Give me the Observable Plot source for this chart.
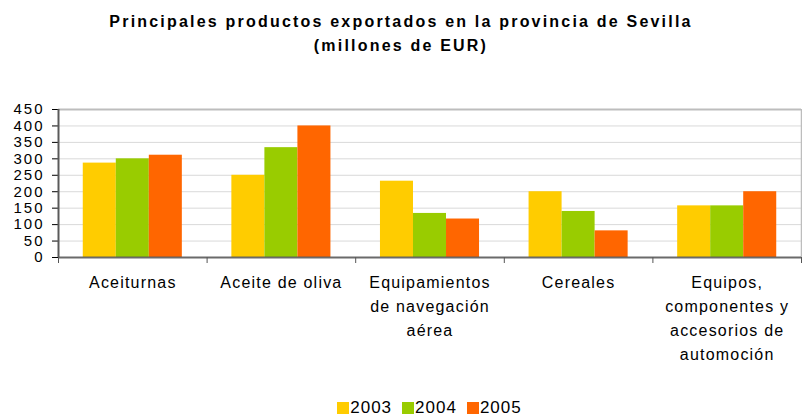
<!DOCTYPE html>
<html>
<head>
<meta charset="utf-8">
<script src="https://cdn.jsdelivr.net/npm/d3@7"></script>
<script src="https://cdn.jsdelivr.net/npm/@observablehq/plot@0.6"></script>
<style>
  body { margin: 0; background: #fff; font-family: "Liberation Sans", Arial, sans-serif; color: #000; }
  #title { height: 50px; padding-top: 10px; text-align: center; font-weight: bold; font-size: 16px;
           letter-spacing: 2.2px; line-height: 24px; }
  #chart svg { display: block; }
  #chart g[aria-label="y-axis tick label"] text { letter-spacing: 2px; }
  #chart g[aria-label="text"] text { letter-spacing: 1.2px; }
  #legend { display: flex; justify-content: center; align-items: center; margin: 10px 1px 0 58px;
            height: 16px; font-size: 17px; letter-spacing: 1px; }
  #legend .item { display: flex; align-items: center; margin: 0 5px; }
  #legend .sw { width: 12px; height: 12px; margin-right: 1px; }
</style>
</head>
<body>
<div id="title">Principales productos exportados en la provincia de Sevilla<br>(millones de EUR)</div>
<div id="chart"></div>
<div id="legend"></div>
<script>
const categoryLabels = [
  "Aceiturnas",
  "Aceite de oliva",
  "Equipamientos\nde navegación\naérea",
  "Cereales",
  "Equipos,\ncomponentes y\naccesorios de\nautomoción"
];
const years = ["2003", "2004", "2005"];
const values2003 = [287, 250, 232, 200, 157];
const values2004 = [300, 334, 134, 140, 157];
const values2005 = [311, 400, 117, 81, 200];
const yTicks = [0, 50, 100, 150, 200, 250, 300, 350, 400, 450];
const colors = ["#FFCC00", "#99CC00", "#FF6600"];

const series = [values2003, values2004, values2005];
const rows = categoryLabels.flatMap((c, ci) =>
  years.map((year, yi) => ({category: c, ci, year, yi, value: series[yi][ci]}))
);

const chart = Plot.plot({
  width: 802,
  height: 330,
  marginTop: 49,
  marginBottom: 133,
  marginLeft: 58,
  marginRight: 1,
  style: {fontFamily: "'Liberation Sans', Arial, sans-serif", background: "#fff", color: "#000"},
  x: {domain: [0, categoryLabels.length], axis: null},
  y: {domain: [0, 450], axis: null},
  color: {domain: years, range: colors},
  marks: [
    Plot.gridY(yTicks.filter(t => t > 0 && t < 450), {stroke: "#d9d9d9", strokeOpacity: 1}),
    Plot.ruleY([450], {stroke: "#bdbdbd", strokeWidth: 2}),
    Plot.ruleX([categoryLabels.length], {stroke: "#bdbdbd", strokeWidth: 1.5}),
    Plot.rect(rows, {
      x1: d => d.ci + (0.75 + d.yi) / 4.5,
      x2: d => d.ci + (1.75 + d.yi) / 4.5,
      y1: 0,
      y2: "value",
      fill: "year",
      inset: 0
    }),
    Plot.axisY({ticks: yTicks, tickSize: 6, tickPadding: 8, label: null, fontSize: 15, color: "#000"}),
    Plot.axisX({ticks: d3.range(0, categoryLabels.length + 1), tickSize: 6, tickFormat: () => "", label: null, stroke: "#555"}),
    Plot.ruleX([0], {stroke: "#5a5a5a", strokeWidth: 2}),
    Plot.ruleY([0], {stroke: "#5a5a5a", strokeWidth: 2, strokeOpacity: 0.9}),
    Plot.text(categoryLabels, {
      x: (d, i) => i + 0.5,
      frameAnchor: "bottom",
      lineAnchor: "top",
      dy: 13,
      fontSize: 16,
      lineHeight: 1.5,
      text: d => d,
      fill: "#000"
    })
  ]
});
document.getElementById("chart").appendChild(chart);

const legend = document.getElementById("legend");
years.forEach((y, i) => {
  const item = document.createElement("span");
  item.className = "item";
  const sw = document.createElement("span");
  sw.className = "sw";
  sw.style.background = colors[i];
  item.appendChild(sw);
  item.appendChild(document.createTextNode(y));
  legend.appendChild(item);
});
</script>
</body>
</html>
